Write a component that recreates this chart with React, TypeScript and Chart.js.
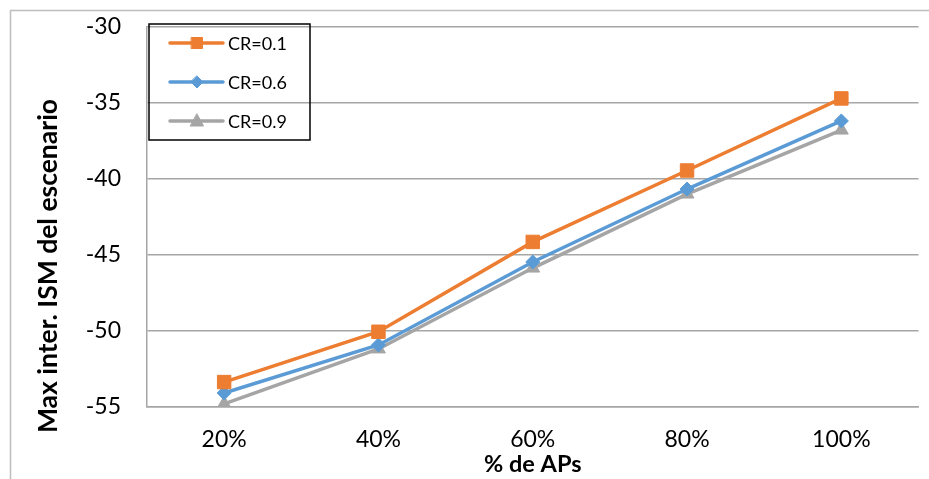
import React, { useEffect, useRef } from "react";
import { Chart, registerables } from "chart.js";

Chart.register(...registerables);

const categories = ["20%", "40%", "60%", "80%", "100%"];
const cr01 = [-53.36, -50.05, -44.14, -39.44, -34.7];
const cr06 = [-54.08, -50.92, -45.46, -40.66, -36.18];
const cr09 = [-54.8, -51.18, -45.86, -40.99, -36.78];
const yTicks = [-55, -50, -45, -40, -35, -30];
const yTitle = "Max inter. ISM del escenario";

const FONT = "Lato, 'Noto Sans', sans-serif";

// Frame around the whole figure (left and top edges are visible)
const framePlugin = {
  id: "frame",
  beforeDraw(chart: any) {
    const ctx = chart.ctx;
    ctx.save();
    ctx.strokeStyle = "#bdbdbd";
    ctx.lineWidth = 1.5;
    ctx.beginPath();
    ctx.moveTo(10.5, chart.height + 2);
    ctx.lineTo(10.5, 10.5);
    ctx.lineTo(chart.width + 2, 10.5);
    ctx.stroke();
    ctx.restore();
  },
};

// Vertical value-axis title, set a little below the plot centre
const yTitlePlugin = {
  id: "yTitle",
  afterDraw(chart: any) {
    const ctx = chart.ctx;
    const area = chart.chartArea;
    ctx.save();
    ctx.translate(48, area.bottom - 141);
    ctx.rotate(-Math.PI / 2);
    ctx.fillStyle = "#000";
    ctx.font = `bold 26.5px ${FONT}`;
    ctx.textAlign = "center";
    ctx.textBaseline = "middle";
    ctx.fillText(yTitle, 0, 0);
    ctx.restore();
  },
};

// Boxed legend drawn inside the plot area, top-left
const boxLegendPlugin = {
  id: "boxLegend",
  afterDraw(chart: any) {
    const ctx = chart.ctx;
    const area = chart.chartArea;
    const x0 = area.left + 2;
    const y0 = area.top - 3;
    const w = 161;
    const h = 116;
    ctx.save();
    ctx.strokeStyle = "#000";
    ctx.lineWidth = 1.5;
    ctx.strokeRect(x0, y0, w, h);
    const rows = [16, 55, 94].map((v) => v + area.top);
    chart.data.datasets.forEach((ds: any, i: number) => {
      const y = rows[i];
      ctx.strokeStyle = ds.borderColor;
      ctx.lineWidth = 3.5;
      ctx.lineCap = "round";
      ctx.beginPath();
      ctx.moveTo(x0 + 21, y);
      ctx.lineTo(x0 + 74, y);
      ctx.stroke();
      ctx.fillStyle = ds.pointBackgroundColor;
      ctx.strokeStyle = ds.pointBackgroundColor;
      ctx.lineWidth = 1;
      const cx = x0 + 48;
      ctx.beginPath();
      if (ds.pointStyle === "rect") {
        ctx.rect(cx - 5.5, y - 5.5, 11, 11);
      } else if (ds.pointStyle === "rectRot") {
        ctx.moveTo(cx, y - 6);
        ctx.lineTo(cx + 6, y);
        ctx.lineTo(cx, y + 6);
        ctx.lineTo(cx - 6, y);
        ctx.closePath();
      } else {
        ctx.moveTo(cx, y - 7);
        ctx.lineTo(cx + 6.5, y + 5);
        ctx.lineTo(cx - 6.5, y + 5);
        ctx.closePath();
      }
      ctx.fill();
      ctx.stroke();
      ctx.fillStyle = "#000";
      ctx.font = `18px ${FONT}`;
      ctx.textAlign = "left";
      ctx.textBaseline = "middle";
      ctx.fillText(ds.label, x0 + 79, y + 1);
    });
    ctx.restore();
  },
};

export default function App() {
  const ref = useRef<HTMLCanvasElement | null>(null);

  useEffect(() => {
    if (!ref.current) return;
    const mk = (label: string, data: number[], color: string, style: string, r: number) => ({
      label,
      data,
      borderColor: color,
      backgroundColor: color,
      pointBackgroundColor: color,
      pointBorderColor: color,
      pointStyle: style,
      pointRadius: r,
      pointBorderWidth: 1,
      borderWidth: 3.5,
      tension: 0,
    });
    const chart = new Chart(ref.current, {
      type: "line",
      data: {
        labels: categories,
        datasets: [
          mk("CR=0.1", cr01, "#ED7D31", "rect", 9.5),
          mk("CR=0.6", cr06, "#5B9BD5", "rectRot", 7),
          mk("CR=0.9", cr09, "#A5A5A5", "triangle", 8),
        ] as any,
      },
      options: {
        responsive: false,
        animation: false,
        layout: { padding: { left: 33, top: 27, right: 8, bottom: 0 } },
        plugins: {
          legend: { display: false },
          tooltip: { enabled: false },
        },
        scales: {
          x: {
            offset: true,
            grid: { display: false, drawTicks: false },
            border: { display: true, color: "#a6a6a6", width: 1.5 },
            ticks: {
              color: "#000",
              font: { family: FONT, size: 23 },
              padding: 19,
              maxRotation: 0,
            },
            title: {
              display: true,
              text: "% de APs",
              color: "#000",
              font: { family: FONT, size: 23.5, weight: "bold" },
              padding: { top: 0, bottom: 0 },
            },
            afterFit(scale: any) {
              scale.height = 72;
            },
          },
          y: {
            min: -55,
            max: -30,
            afterBuildTicks(scale: any) {
              scale.ticks = yTicks.map((v) => ({ value: v }));
            },
            grid: {
              color: "#a6a6a6",
              lineWidth: 1.5,
              drawTicks: true,
              tickLength: 24,
              tickColor: "rgba(0,0,0,0)",
            },
            border: { display: true, color: "#a6a6a6", width: 1.5 },
            ticks: {
              color: "#000",
              font: { family: FONT, size: 23 },
              padding: 2,
            },
            title: { display: false },
            afterFit(scale: any) {
              scale.width = 114;
            },
          },
        },
      },
      plugins: [framePlugin, yTitlePlugin, boxLegendPlugin],
    });
    return () => chart.destroy();
  }, []);

  return (
    <div style={{ position: "fixed", left: 0, top: 0, width: 929, height: 479, background: "#fff" }}>
      <canvas ref={ref} width={929} height={479} style={{ display: "block" }} />
    </div>
  );
}
